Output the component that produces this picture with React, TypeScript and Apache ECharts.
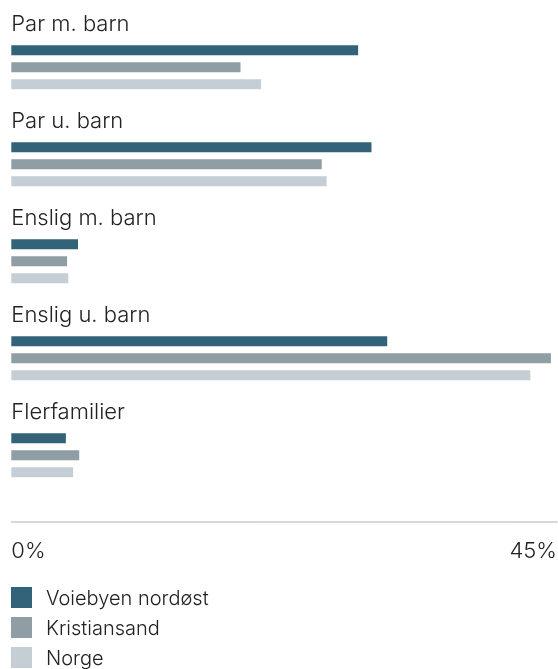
import React, { useEffect, useRef } from "react";
import * as echarts from "echarts";

const categories = ["Par m. barn", "Par u. barn", "Enslig m. barn", "Enslig u. barn", "Flerfamilier"];
const seriesNames = ["Voiebyen nordøst", "Kristiansand", "Norge"];
const voiebyen = [28.6, 29.7, 5.5, 31.0, 4.5];
const kristiansand = [18.9, 25.6, 4.6, 44.5, 5.6];
const norge = [20.6, 26.0, 4.7, 42.8, 5.1];
const axisMin = 0;
const axisMax = 45;

const colors = ["#336379", "#8f9da4", "#c5ced4"];
const FONT = "Inter, Roboto, sans-serif";

export default function App() {
  const ref = useRef<HTMLDivElement>(null);
  useEffect(() => {
    if (!ref.current) return;
    const chart = echarts.init(ref.current, undefined, { renderer: "svg" });
    const values = [voiebyen, kristiansand, norge];
    chart.setOption({
      animation: false,
      color: colors,
      textStyle: { fontFamily: FONT },
      grid: { left: 11.3, right: 1, top: 18.7, height: 485, containLabel: false, outerBoundsMode: "none" },
      legend: {
        orient: "vertical",
        left: 11,
        top: 587,
        padding: 0,
        itemWidth: 21,
        itemHeight: 21,
        itemGap: 9,
        icon: "rect",
        selectedMode: false,
        data: seriesNames,
        textStyle: { fontFamily: FONT, fontSize: 20, color: "#222", padding: [0, 0, 0, 9], fontWeight: 300 },
      },
      xAxis: {
        type: "value",
        min: axisMin,
        max: axisMax,
        interval: axisMax - axisMin,
        offset: 18,
        axisLine: { show: true, lineStyle: { color: "#cccccc", width: 1.5 } },
        axisTick: { show: false },
        splitLine: { show: false },
        axisLabel: {
          formatter: "{value}%",
          fontFamily: FONT,
          fontSize: 22,
          fontWeight: 300,
          color: "#222",
          margin: 17,
          alignMinLabel: "left",
          alignMaxLabel: "right",
        },
      },
      yAxis: {
        type: "category",
        inverse: true,
        data: categories,
        axisLine: { show: false },
        axisTick: { show: false },
        axisLabel: {
          inside: true,
          margin: 0,
          align: "left",
          verticalAlign: "bottom",
          lineHeight: 89,
          fontFamily: FONT,
          fontSize: 22,
          fontWeight: 300,
          color: "#222",
        },
      },
      series: seriesNames.map((name, i) => ({
        name,
        type: "bar",
        data: values[i],
        barWidth: 10,
        barGap: "70%",
        itemStyle: { color: colors[i] },
        emphasis: { disabled: true },
      })),
    });
    return () => chart.dispose();
  }, []);
  return <div ref={ref} style={{ position: "fixed", left: 0, top: 0, width: 558, height: 669 }} />;
}
